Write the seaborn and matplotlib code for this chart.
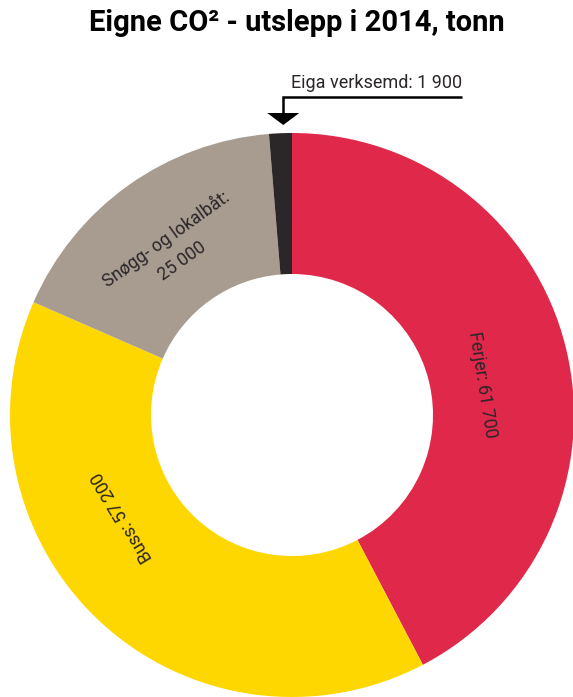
import numpy as np
import matplotlib
matplotlib.use("Agg")
import matplotlib.pyplot as plt
import seaborn as sns

# ---- data ----
categories = ["Ferjer", "Buss", "Snøgg- og lokalbåt", "Eiga verksemd"]
values = [61700, 57200, 25000, 1900]
colors = ["#E0284A", "#FED700", "#A89C90", "#2B2628"]
title = "Eigne CO² - utslepp i 2014, tonn"

sns.set_theme(style="white")
plt.rcParams["font.family"] = ["Roboto", "DejaVu Sans"]

W, H = 573, 697
fig = plt.figure(figsize=(W / 100, H / 100), dpi=100)
ax = fig.add_axes([0, 0, 1, 1])

# donut centre / radius in pixels (layout)
cx, cy, R = 292, 415, 282
wedges, _ = ax.pie(values, colors=colors, startangle=90, counterclock=False,
                   radius=1.0, wedgeprops=dict(width=0.5, edgecolor="none", linewidth=0))
ax.set_aspect("auto")
ax.set_xlim(-cx / R, (W - cx) / R)
ax.set_ylim(-(H - cy) / R, cy / R)
ax.axis("off")

def fmt(v):
    return f"{v:,}".replace(",", " ")

# label placement (angles relative to wedge centres)
total = sum(values)
cum = np.cumsum([0] + values)
mids = [90 - 360 * (cum[i] + values[i] / 2) / total for i in range(len(values))]
angle_offsets = [-4.8, -16.0, 0.0]
radii = [0.685, 0.70, 0.72]
texts = [f"{categories[0]}: {fmt(values[0])}",
         f"{categories[1]}: {fmt(values[1])}",
         f"{categories[2]}:\n{fmt(values[2])}"]
for i in range(3):
    a = mids[i] + angle_offsets[i]
    r = radii[i]
    x, y = r * np.cos(np.radians(a)), r * np.sin(np.radians(a))
    ax.text(x, y, texts[i], rotation=a - 90, rotation_mode="anchor",
            ha="center", va="center", fontsize=12.8, color="#2B2628",
            linespacing=1.6, multialignment="center")

# callout for the small wedge
a = np.radians(mids[3])
xt = np.cos(a) * 1.0 + 0.01
y_tip = (cy - 125) / R
y_elbow = (cy - 97) / R
y_head = (cy - 113) / R
x_end = (462 - cx) / R
ax.plot([x_end, xt, xt], [y_elbow, y_elbow, y_head], color="black", lw=1.8,
        solid_capstyle="butt", solid_joinstyle="miter", clip_on=False)
hw = 16 / R
ax.fill([xt - hw, xt + hw, xt], [y_head, y_head, y_tip], color="black", lw=0)
ax.text(x_end, y_elbow + 9 / R, f"{categories[3]}: {fmt(values[3])}",
        ha="right", va="baseline", fontsize=13, color="#2B2628")

fig.text(297 / W, 1 - 23 / H, title, ha="center", va="center",
         fontsize=21, fontweight="bold", color="black")

fig.savefig("out.png", dpi=100)
